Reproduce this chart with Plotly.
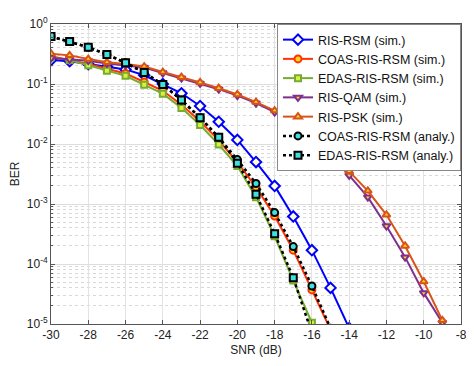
import plotly.graph_objects as go

snr = list(range(-30, -8))  # -30 .. -9

ris_rsm = [0.25, 0.24, 0.215, 0.195, 0.175, 0.14, 0.10, 0.07, 0.043, 0.0235, 0.0117,
           0.005, 0.002, 6.2e-4, 1.7e-4, 4.0e-5, 8.5e-6]
coas_sim = [0.29, 0.25, 0.215, 0.18, 0.15, 0.108, 0.077, 0.045, 0.024, 0.0115, 0.005,
            0.0019, 6.3e-4, 1.7e-4, 3.7e-5, 8.0e-6]
edas_sim = [0.28, 0.25, 0.205, 0.167, 0.137, 0.097, 0.069, 0.040, 0.0207, 0.0098, 0.0043,
            0.0013, 2.9e-4, 5.3e-5, 1.05e-5]
ris_qam = [0.27, 0.26, 0.245, 0.22, 0.205, 0.188, 0.152, 0.125, 0.102, 0.082, 0.064,
           0.048, 0.034, 0.022, 0.0128, 0.0066, 0.003, 0.0013, 4.3e-4, 1.3e-4, 3.3e-5, 1.05e-5]
ris_psk = [0.32, 0.30, 0.26, 0.23, 0.215, 0.195, 0.158, 0.13, 0.106, 0.085, 0.067,
           0.05, 0.036, 0.023, 0.0135, 0.007, 0.0035, 0.00166, 6.6e-4, 2.0e-4, 5.1e-5, 1.15e-5]
coas_ana = [0.62, 0.51, 0.41, 0.31, 0.225, 0.155, 0.098, 0.054, 0.0275, 0.0129, 0.0055,
            0.0022, 7.2e-4, 1.95e-4, 4.3e-5, 8.5e-6]
edas_ana = [0.62, 0.51, 0.41, 0.31, 0.225, 0.155, 0.098, 0.054, 0.0275, 0.0129, 0.0048,
            0.00145, 3.2e-4, 5.9e-5, 7.0e-6]

x_ticks = list(range(-30, -7, 2))
y_tickvals = [1, 1e-1, 1e-2, 1e-3, 1e-4, 1e-5]
y_ticktext = ["10<sup>0</sup>", "10<sup>-1</sup>", "10<sup>-2</sup>", "10<sup>-3</sup>",
              "10<sup>-4</sup>", "10<sup>-5</sup>"]

fig = go.Figure()

def add(name, y, color, dash, symbol, fill, lw=2, lcolor=None, ms=7):
    fig.add_trace(go.Scatter(
        x=snr[:len(y)], y=y, name=name, mode="lines+markers",
        line=dict(color=color, width=lw, dash=dash),
        marker=dict(symbol=symbol, size=ms, color=fill,
                    line=dict(color=lcolor or color, width=2)),
    ))

add("RIS-RSM (sim.)", ris_rsm, "#0000FF", "solid", "diamond", "#FFFFD0", ms=8)
add("COAS-RIS-RSM (sim.)", coas_sim, "#FF3300", "solid", "circle", "#FFD320")
add("EDAS-RIS-RSM (sim.)", edas_sim, "#77AC30", "solid", "square", "#D8F040", ms=6)
add("RIS-QAM (sim.)", ris_qam, "#7E2F8E", "solid", "triangle-down", "#FFD320")
add("RIS-PSK (sim.)", ris_psk, "#D95319", "solid", "triangle-up", "#FFD320")
add("COAS-RIS-RSM (analy.)", coas_ana, "#000000", "dot", "circle", "#40E0E0", lw=2.5)
add("EDAS-RIS-RSM (analy.)", edas_ana, "#000000", "dot", "square", "#40E0E0", lw=2.5)

axis_font = dict(family="Liberation Sans, Arial, sans-serif", size=12, color="#222222")

# page body has an 8px default margin, so the figure is sized to fit the window
fig.update_layout(
    width=466, height=358,
    margin=dict(l=43, r=13, t=16, b=42),
    plot_bgcolor="white", paper_bgcolor="white",
    font=axis_font,
    showlegend=True,
    legend=dict(x=1, y=1, xanchor="right", yanchor="top",
                bgcolor="white", bordercolor="#888888", borderwidth=1,
                font=dict(family="Liberation Sans, Arial, sans-serif", size=12.5, color="#111111"),
                tracegroupgap=0, itemwidth=30),
)

fig.update_xaxes(
    range=[-30, -8], tickvals=x_ticks, ticktext=[str(v) for v in x_ticks],
    showgrid=True, gridcolor="#E3E3E3", gridwidth=1,
    showline=True, linecolor="#555555", linewidth=1, mirror="ticks",
    ticks="inside", ticklen=4, tickcolor="#555555",
    zeroline=False, automargin=False,
    title=dict(text="SNR (dB)", standoff=4, font=dict(size=12)),
)
fig.update_yaxes(
    type="log", range=[-5, 0], tickvals=y_tickvals, ticktext=y_ticktext,
    showgrid=True, gridcolor="#DDDDDD", gridwidth=1,
    showline=True, linecolor="#555555", linewidth=1, mirror="ticks",
    ticks="inside", ticklen=4, tickcolor="#555555",
    zeroline=False, automargin=False,
    minor=dict(ticks="inside", ticklen=2, tickcolor="#555555",
               showgrid=True, gridcolor="#D8D8D8", griddash="dot", gridwidth=1,
               dtick="D1"),
    title=dict(text="BER", standoff=6, font=dict(size=12)),
)

fig.write_html("out.html")
